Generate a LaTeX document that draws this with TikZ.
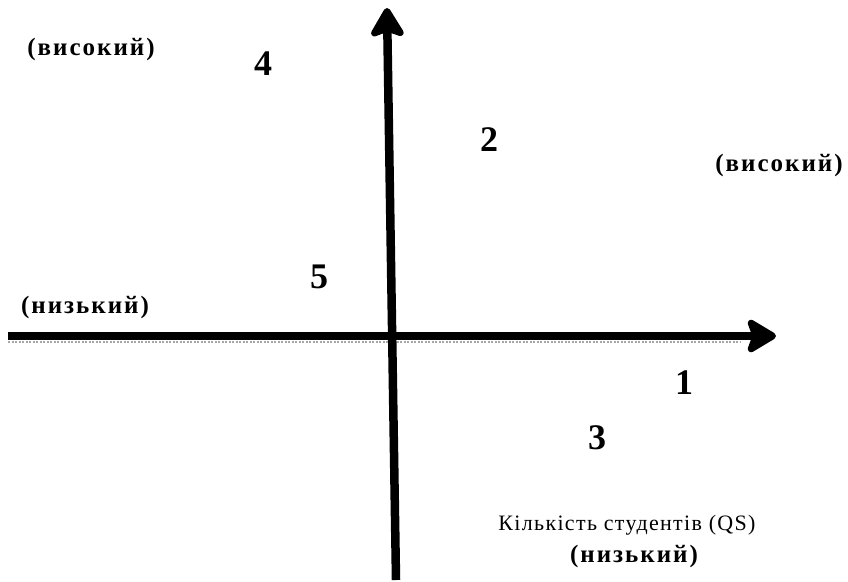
\documentclass[tikz,border=0pt]{standalone}
\usepackage{fontspec}
\setmainfont{Liberation Serif}
\newfontfamily\spacedfont[LetterSpace=8]{Liberation Serif}
\newfontfamily\qsfont[LetterSpace=6]{Liberation Serif}
\usetikzlibrary{arrows.meta}
\tikzset{
  axis/.style={line width=8.5pt, draw=black, -{Stealth[length=34pt,width=40pt,inset=7pt,round]}},
  shadowline/.style={line width=2pt, draw=gray!70, dash pattern=on 2pt off 1.5pt},
  levellabel/.style={font=\fontsize{25}{29}\selectfont\spacedfont\bfseries, inner sep=0pt},
  qslabel/.style={font=\fontsize{22}{26}\selectfont\qsfont, inner sep=0pt},
  numlabel/.style={font=\fontsize{36}{40}\selectfont\bfseries, inner sep=0pt}
}
\begin{document}
\begin{tikzpicture}[x=1pt,y=-1pt]
\useasboundingbox (0,0) rectangle (848,581);
% axes
\coordinate (hL) at (8,336);
\coordinate (hR) at (776,336);
\coordinate (vB) at (396,580);
\coordinate (vT) at (387,8);
\coordinate (sL) at (8,342);
\coordinate (sR) at (740,342);
\draw[shadowline] (sL) -- (sR);
\draw[axis] (hL) -- (hR);
\draw[axis] (vB) -- (vT);
% labels
\node[levellabel] (lt) at (91,49) {(високий)};
\node[levellabel] (rt) at (779,165) {(високий)};
\node[levellabel] (ll) at (85,307) {(низький)};
\node[levellabel] (lb) at (634,556) {(низький)};
\node[qslabel] (qs) at (627,525) {Кількість студентів (QS)};
% numbers
\node[numlabel] (n4) at (263,64) {4};
\node[numlabel] (n2) at (489,140) {2};
\node[numlabel] (n5) at (319,277) {5};
\node[numlabel] (n1) at (684,383) {1};
\node[numlabel] (n3) at (597,438) {3};
\end{tikzpicture}
\end{document}
